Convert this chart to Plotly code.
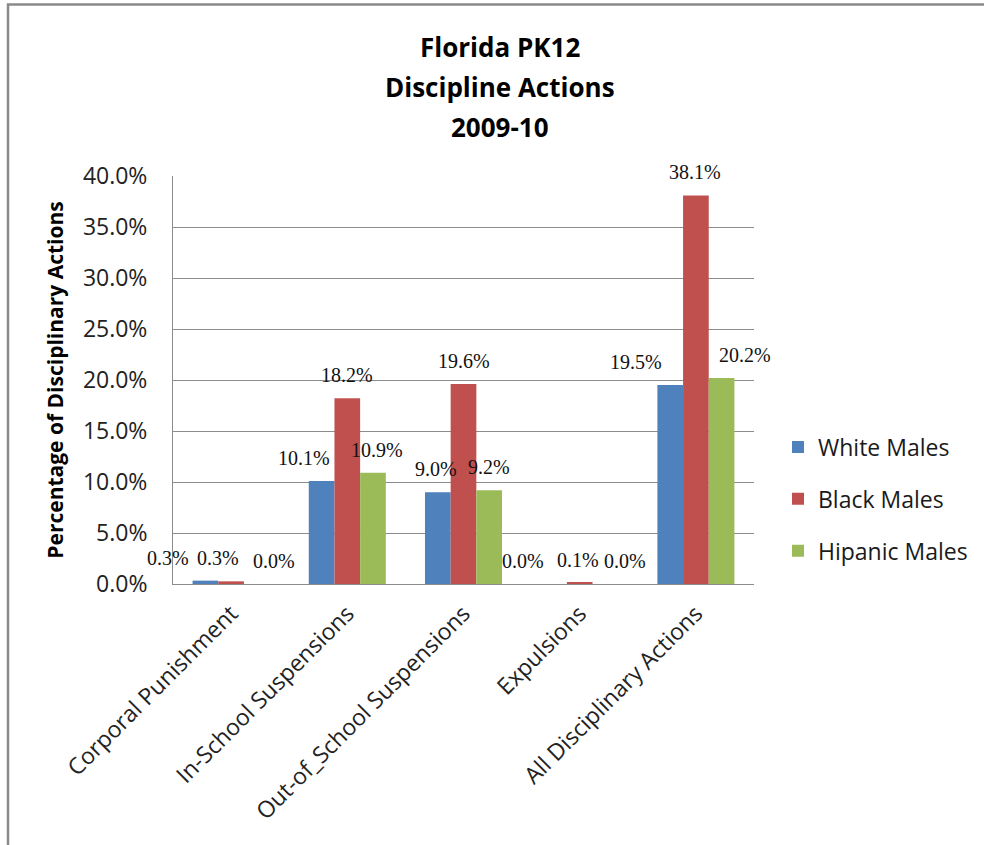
import plotly.graph_objects as go

categories = ["Corporal Punishment", "In-School Suspensions", "Out-of_School Suspensions",
              "Expulsions", "All Disciplinary Actions"]
series_names = ["White Males", "Black Males", "Hipanic Males"]
white_males = [0.0033, 0.101, 0.090, 0.000, 0.195]
black_males = [0.0026, 0.182, 0.196, 0.001, 0.381]
hispanic_males = [0.000, 0.109, 0.092, 0.000, 0.202]
title_lines = ["Florida PK12", "Discipline Actions", "2009-10"]
y_ticks = [0.0, 0.05, 0.10, 0.15, 0.20, 0.25, 0.30, 0.35, 0.40]

colors = ["#4F81BD", "#C0504D", "#9BBB59"]
# manual label nudges (pixels) as in the original, per series per category
label_dx = [[-37, -18, -2, -31, -34],
            [-13, 0, 0, -2, -1],
            [17, 4, 0, 20, 23]]

W, H = 984, 845
L, R, T, B = 173, 230, 176, 261
pw, ph = W - L - R, H - T - B
bargap = 0.337
bar_w = pw / len(categories) * (1 - bargap) / 3

def px_x(p):
    return (p - L) / pw

def px_y(p):
    return (H - B - p) / ph

fig = go.Figure()
all_series = [white_males, black_males, hispanic_males]
for i, (name, vals) in enumerate(zip(series_names, all_series)):
    fig.add_trace(go.Bar(x=categories, y=vals, name=name, marker_color=colors[i],
                         marker_line_width=0, legendgroup=name))

annotations = []
for i, vals in enumerate(all_series):
    for j, v in enumerate(vals):
        annotations.append(dict(
            x=categories[j], y=v, xref="x", yref="y",
            text=f"{v*100:.1f}%", showarrow=False,
            xshift=(i - 1) * bar_w + label_dx[i][j], yshift=23,
            yanchor="middle", xanchor="center",
            font=dict(family="Liberation Serif", size=20, color="#111111")))

for k, line in enumerate(title_lines):
    annotations.append(dict(
        x=px_x(500), y=px_y(47 + 40 * k), xref="paper", yref="paper",
        text=f"<b>{line}</b>", showarrow=False, xanchor="center", yanchor="middle",
        font=dict(family="Open Sans", size=26, color="#000000")))

fig.update_layout(
    width=W, height=H,
    margin=dict(l=L, r=R, t=T, b=B, autoexpand=False),
    paper_bgcolor="white", plot_bgcolor="white",
    barmode="group", bargap=bargap, bargroupgap=0,
    annotations=annotations,
    legend=dict(x=px_x(778), y=px_y(499), xanchor="left", yanchor="middle",
                font=dict(family="Open Sans", size=23, color="#1a1a1a"),
                tracegroupgap=19, bgcolor="rgba(0,0,0,0)"),
    shapes=[dict(type="rect", xref="paper", yref="paper",
                 x0=px_x(8), x1=px_x(W + 20), y0=px_y(H + 20), y1=px_y(4.5),
                 line=dict(color="#8a8a8a", width=2.5), fillcolor="rgba(0,0,0,0)",
                 layer="below")],
)

fig.update_yaxes(range=[0, 0.40], tickvals=y_ticks, tickformat=".1%",
                 showgrid=True, gridcolor="#8c8c8c", gridwidth=1,
                 showline=True, linecolor="#8c8c8c", linewidth=1,
                 zeroline=False, ticks="", ticklabelstandoff=20,
                 tickfont=dict(family="Open Sans", size=23, color="#222222"),
                 title=dict(text="<b>Percentage of Disciplinary Actions</b>",
                            font=dict(family="Open Sans", size=21, color="#000000"),
                            standoff=13),
                 automargin=False)
fig.update_xaxes(range=[-0.5, len(categories) - 0.5],
                 showline=True, linecolor="#8c8c8c", linewidth=1, ticks="",
                 tickangle=-45, ticklabelstandoff=6,
                 tickfont=dict(family="Open Sans", size=23, color="#222222"),
                 automargin=False)

fig.write_html("out.html")
